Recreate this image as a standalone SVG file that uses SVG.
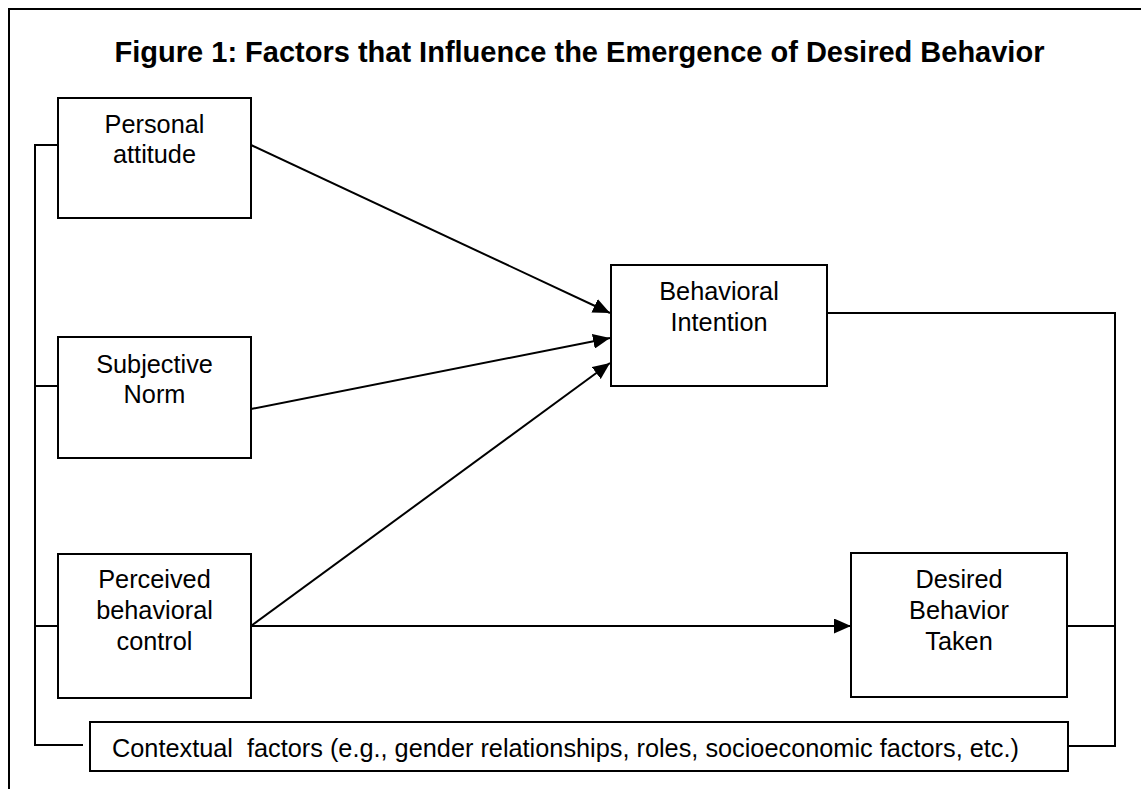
<svg xmlns="http://www.w3.org/2000/svg" width="1141" height="789" viewBox="0 0 1141 789">
<style>
.box{fill:#fff;stroke:#000;stroke-width:2}
.ln{fill:none;stroke:#000;stroke-width:2}
.t{font-family:"Liberation Sans",Arial,sans-serif;font-size:25.3px;fill:#000;text-anchor:middle}
.title{font-family:"Liberation Sans",Arial,sans-serif;font-size:29px;font-weight:bold;fill:#000;text-anchor:middle}
</style>
<defs>
<marker id="ah" viewBox="0 0 17 15" refX="17" refY="7.5" markerWidth="17" markerHeight="15" markerUnits="userSpaceOnUse" orient="auto">
<path d="M0,0 L17,7.5 L0,15 Z" fill="#000"/>
</marker>
</defs>
<rect width="1141" height="789" fill="#fff"/>
<path class="ln" d="M9,789 V9 H1141"/>
<text class="title" x="579.5" y="62">Figure 1: Factors that Influence the Emergence of Desired Behavior</text>
<g id="connectors">
<path class="ln" d="M58,145 H35 V745 H83"/>
<path class="ln" d="M35,386 H58"/>
<path class="ln" d="M35,626 H58"/>
<path class="ln" d="M827,313 H1115 V746 H1068"/>
<path class="ln" d="M1067,626 H1115"/>
<line class="ln" x1="251" y1="145" x2="610" y2="313" marker-end="url(#ah)"/>
<line class="ln" x1="251" y1="409" x2="610" y2="338" marker-end="url(#ah)"/>
<line class="ln" x1="251" y1="626" x2="610" y2="363" marker-end="url(#ah)"/>
<line class="ln" x1="251" y1="626" x2="851" y2="626" marker-end="url(#ah)"/>
</g>
<g id="personal-attitude">
<rect class="box" x="58" y="98" width="193" height="120"/>
<text class="t" x="154.5" y="133">Personal</text>
<text class="t" x="154.5" y="163">attitude</text>
</g>
<g id="subjective-norm">
<rect class="box" x="58" y="337" width="193" height="121"/>
<text class="t" x="154.5" y="373">Subjective</text>
<text class="t" x="154.5" y="403">Norm</text>
</g>
<g id="perceived-control">
<rect class="box" x="58" y="554" width="193" height="144"/>
<text class="t" x="154.5" y="588">Perceived</text>
<text class="t" x="154.5" y="619">behavioral</text>
<text class="t" x="154.5" y="650">control</text>
</g>
<g id="behavioral-intention">
<rect class="box" x="611" y="265" width="216" height="121"/>
<text class="t" x="719" y="300">Behavioral</text>
<text class="t" x="719" y="331">Intention</text>
</g>
<g id="desired-behavior">
<rect class="box" x="851" y="553" width="216" height="144"/>
<text class="t" x="959" y="588">Desired</text>
<text class="t" x="959" y="619">Behavior</text>
<text class="t" x="959" y="650">Taken</text>
</g>
<g id="contextual-factors">
<rect class="box" x="90" y="722" width="978" height="49"/>
<text class="t" x="112" y="757" style="text-anchor:start;white-space:pre">Contextual  factors (e.g., gender relationships, roles, socioeconomic factors, etc.)</text>
</g>
</svg>
